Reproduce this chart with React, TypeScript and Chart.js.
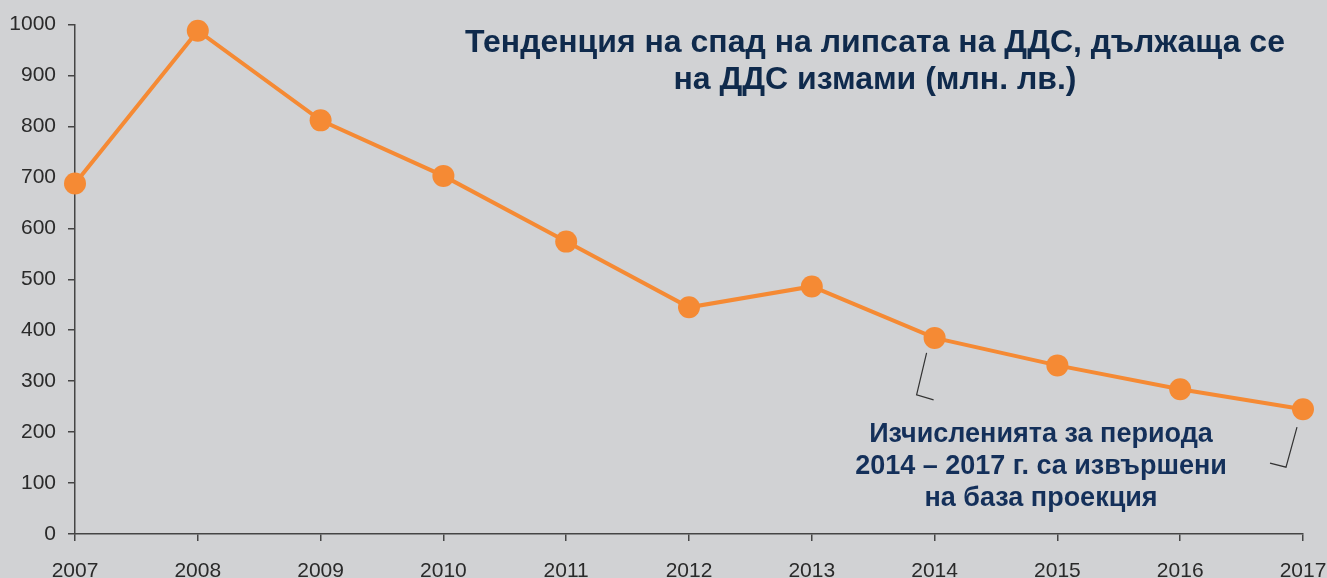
import React, { useEffect, useRef } from "react";
import { Chart, registerables } from "chart.js";

Chart.register(...registerables);

const years: string[] = ["2007", "2008", "2009", "2010", "2011", "2012", "2013", "2014", "2015", "2016", "2017"];
const vatGap: number[] = [688, 988, 812, 703, 574, 445, 486, 385, 331, 284, 245];
const titleLines: string[] = [
  "Тенденция на спад на липсата на ДДС, дължаща се",
  "на ДДС измами (млн. лв.)",
];
const noteLines: string[] = [
  "Изчисленията за периода",
  "2014 – 2017 г. са извършени",
  "на база проекция",
];

const FONT = '"Liberation Sans", Arial, Helvetica, sans-serif';
const BG = "#d1d2d4";
const ORANGE = "#f58a34";
const NAVY = "#0f2a4c";
const AXIS = "#454545";

const textPlugin = {
  id: "textPlugin",
  afterDraw(chart: any) {
    const ctx = chart.ctx;
    const xs = chart.scales.x;
    const ys = chart.scales.y;
    ctx.save();
    ctx.fillStyle = NAVY;
    ctx.textAlign = "center";
    ctx.textBaseline = "alphabetic";
    ctx.font = `bold 32px ${FONT}`;
    ctx.fillText(titleLines[0], 875, 52);
    ctx.fillText(titleLines[1], 875, 89);

    ctx.font = `bold 27px ${FONT}`;
    ctx.fillStyle = "#14305a";
    const base = [442, 474, 506];
    noteLines.forEach((l, i) => ctx.fillText(l, 1041, base[i]));

    // bracket marks
    ctx.strokeStyle = "#333";
    ctx.lineWidth = 1.2;
    const x14 = xs.getPixelForValue(7);
    const x17 = xs.getPixelForValue(10);
    const y14 = ys.getPixelForValue(vatGap[7]);
    const y17 = ys.getPixelForValue(vatGap[10]);
    ctx.beginPath();
    ctx.moveTo(x14 - 8, y14 + 15);
    ctx.lineTo(x14 - 18, y14 + 57);
    ctx.lineTo(x14 - 1, y14 + 62);
    ctx.stroke();
    ctx.beginPath();
    ctx.moveTo(x17 - 6, y17 + 18);
    ctx.lineTo(x17 - 17, y17 + 58);
    ctx.lineTo(x17 - 33, y17 + 54);
    ctx.stroke();
    ctx.restore();
  },
};

export default function App() {
  const ref = useRef<HTMLCanvasElement | null>(null);

  useEffect(() => {
    document.body.style.margin = "0";
    document.body.style.background = BG;
    if (!ref.current) return;
    const chart = new Chart(ref.current, {
      type: "line",
      data: {
        labels: years,
        datasets: [
          {
            data: vatGap,
            borderColor: ORANGE,
            backgroundColor: ORANGE,
            borderWidth: 4,
            pointRadius: 11,
            pointHoverRadius: 11,
            pointBorderWidth: 0,
            pointBackgroundColor: ORANGE,
            tension: 0,
            clip: false as any,
          },
        ],
      },
      options: {
        animation: false,
        responsive: false,
        maintainAspectRatio: false,
        layout: { padding: { top: 22, right: 24, left: 0, bottom: 0 } },
        plugins: {
          legend: { display: false },
          tooltip: { enabled: false },
          title: { display: false },
        },
        scales: {
          x: {
            type: "category",
            offset: false,
            grid: {
              display: true,
              drawOnChartArea: false,
              drawTicks: true,
              tickLength: 7,
              color: AXIS,
              lineWidth: 1.5,
            },
            border: { display: true, color: AXIS, width: 1.5 },
            ticks: {
              color: "#2a2a2a",
              font: { family: FONT, size: 21 },
              padding: 18,
              maxRotation: 0,
              autoSkip: false,
            },
            afterFit: (s: any) => {
              s.height = 44;
              s.paddingLeft = 0;
              s.paddingRight = 0;
            },
          },
          y: {
            min: 0,
            max: 1000,
            grid: {
              display: true,
              drawOnChartArea: false,
              drawTicks: true,
              tickLength: 7,
              color: AXIS,
              lineWidth: 1.5,
            },
            border: { display: true, color: AXIS, width: 1.5 },
            ticks: {
              stepSize: 100,
              color: "#2a2a2a",
              font: { family: FONT, size: 21 },
              padding: 12,
              callback: (v: any) => String(v),
            },
            afterFit: (s: any) => {
              s.width = 75;
            },
          },
        },
      },
      plugins: [textPlugin],
    });
    return () => chart.destroy();
  }, []);

  return (
    <div style={{ width: 1327, height: 578, background: BG, position: "relative" }}>
      <canvas ref={ref} width={1327} height={578} style={{ display: "block" }} />
    </div>
  );
}
